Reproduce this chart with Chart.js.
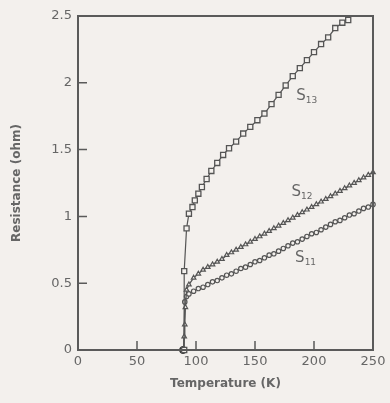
<!DOCTYPE html>
<html lang="en">
<head>
  <meta charset="UTF-8">
  <title>Resistance vs Temperature</title>
  <style>
    body { margin: 0; background: #f3f0ed; }
    #wrap { width: 390px; height: 403px; }
  </style>
  <script src="https://cdn.jsdelivr.net/npm/chart.js"></script>
</head>
<body>
<div id="wrap"><canvas id="chart" width="390" height="403"></canvas></div>
<script>
  // S13 (squares)
  const s13T = [90, 90, 92, 94, 97, 99, 102, 105, 109, 113, 118, 123, 128, 134, 140, 146, 152, 158, 164, 170, 176, 182, 188, 194, 200, 206, 212, 218, 224, 229];
  const s13R = [0, 0.59, 0.91, 1.02, 1.07, 1.12, 1.17, 1.22, 1.28, 1.34, 1.40, 1.46, 1.51, 1.56, 1.62, 1.67, 1.72, 1.77, 1.84, 1.91, 1.98, 2.05, 2.11, 2.17, 2.23, 2.29, 2.34, 2.41, 2.45, 2.47];

  // S12 (triangles)
  const s12T = [89.5, 90, 90.5, 91, 92, 94, 98, 102, 106, 110, 114, 118, 122, 126, 130, 134, 138, 142, 146, 150, 154, 158, 162, 166, 170, 174, 178, 182, 186, 190, 194, 198, 202, 206, 210, 214, 218, 222, 226, 230, 234, 238, 242, 246, 250];
  const s12R = [0, 0.10, 0.19, 0.32, 0.45, 0.49, 0.54, 0.57, 0.60, 0.62, 0.64, 0.66, 0.68, 0.71, 0.73, 0.75, 0.77, 0.79, 0.81, 0.83, 0.85, 0.87, 0.89, 0.91, 0.93, 0.95, 0.97, 0.99, 1.01, 1.03, 1.05, 1.07, 1.09, 1.11, 1.13, 1.15, 1.17, 1.19, 1.21, 1.23, 1.25, 1.27, 1.29, 1.31, 1.33];

  // S11 (circles)
  const s11T = [89.5, 90.5, 92, 94, 98, 102, 106, 110, 114, 118, 122, 126, 130, 134, 138, 142, 146, 150, 154, 158, 162, 166, 170, 174, 178, 182, 186, 190, 194, 198, 202, 206, 210, 214, 218, 222, 226, 230, 234, 238, 242, 246, 250];
  const s11R = [0, 0.36, 0.40, 0.42, 0.44, 0.46, 0.47, 0.49, 0.51, 0.52, 0.54, 0.56, 0.57, 0.59, 0.61, 0.62, 0.64, 0.66, 0.67, 0.69, 0.71, 0.72, 0.74, 0.76, 0.78, 0.80, 0.81, 0.83, 0.85, 0.87, 0.88, 0.90, 0.92, 0.94, 0.96, 0.97, 0.99, 1.01, 1.02, 1.04, 1.06, 1.07, 1.09];

  // dark blob at the foot of the transition
  const baseT = [89];
  const baseR = [0];

  const xTicks = [0, 50, 100, 150, 200, 250];
  const yTicks = [0, 0.5, 1, 1.5, 2, 2.5];
  const yTickText = ['0', '0.5', '1', '1.5', '2', '2.5'];

  // curve labels: [text, subscript, T, R]
  const curveLabels = [['S', '13', 185, 1.87], ['S', '12', 181, 1.15], ['S', '11', 184, 0.66]];

  const ink = '#555';
  const bg = '#f3f0ed';

  function pts(xs, ys) { return xs.map((x, i) => ({ x: x, y: ys[i] })); }

  const frame = {
    id: 'frame',
    afterDraw(chart) {
      const { ctx, chartArea: a, scales } = chart;
      ctx.save();
      ctx.strokeStyle = '#5a5a5a';
      ctx.lineWidth = 2;
      ctx.strokeRect(a.left, a.top, a.right - a.left, a.bottom - a.top);
      ctx.lineWidth = 1.5;
      ctx.beginPath();
      yTicks.slice(1, -1).forEach(v => {
        const y = scales.y.getPixelForValue(v);
        ctx.moveTo(a.left, y); ctx.lineTo(a.left + 9, y);
      });
      xTicks.slice(1, -1).forEach(v => {
        const x = scales.x.getPixelForValue(v);
        ctx.moveTo(x, a.bottom); ctx.lineTo(x, a.bottom - 9);
      });
      ctx.stroke();
      // curve labels
      ctx.fillStyle = '#666';
      ctx.textBaseline = 'alphabetic';
      curveLabels.forEach(l => {
        const x = scales.x.getPixelForValue(l[2]);
        const y = scales.y.getPixelForValue(l[3]);
        ctx.font = '15px "DejaVu Sans"';
        ctx.fillText(l[0], x, y);
        const w = ctx.measureText(l[0]).width;
        ctx.font = '9px "DejaVu Sans"';
        ctx.fillText(l[1], x + w, y + 3);
      });
      ctx.restore();
    }
  };

  new Chart(document.getElementById('chart'), {
    type: 'scatter',
    data: {
      datasets: [
        { label: 'S13', data: pts(s13T, s13R), showLine: true, borderColor: ink, borderWidth: 1.2,
          pointStyle: 'rect', pointRadius: 3.6, pointBorderWidth: 1.3, pointBorderColor: ink, pointBackgroundColor: bg },
        { label: 'S12', data: pts(s12T, s12R), showLine: true, borderColor: ink, borderWidth: 1.3,
          pointStyle: 'triangle', pointRadius: 2.6, pointBorderWidth: 1.2, pointBorderColor: ink, pointBackgroundColor: bg },
        { label: 'S11', data: pts(s11T, s11R), showLine: true, borderColor: ink, borderWidth: 1.3,
          pointStyle: 'circle', pointRadius: 2.2, pointBorderWidth: 1.2, pointBorderColor: ink, pointBackgroundColor: bg },
        { label: 'base', data: pts(baseT, baseR), pointStyle: 'circle', pointRadius: 3.5,
          pointBackgroundColor: '#333', pointBorderColor: '#333' }
      ]
    },
    options: {
      responsive: false,
      animation: false,
      clip: false,
      layout: { padding: { left: 10, top: 16, right: 17, bottom: 0 } },
      plugins: { legend: { display: false }, tooltip: { enabled: false } },
      scales: {
        x: {
          type: 'linear', min: 0, max: 250,
          afterBuildTicks: s => { s.ticks = xTicks.map(v => ({ value: v })); },
          afterFit: s => { s.height = 53; },
          grid: { display: false, drawTicks: false },
          border: { display: false },
          ticks: { color: '#666', padding: 4, font: { family: 'DejaVu Sans', size: 13 }, maxRotation: 0 },
          title: { display: true, text: 'Temperature (K)', color: '#666',
            font: { family: 'DejaVu Sans', size: 12, weight: 'bold' }, padding: { top: 6, bottom: 12 } }
        },
        y: {
          type: 'linear', min: 0, max: 2.5,
          afterBuildTicks: s => { s.ticks = yTicks.map(v => ({ value: v })); },
          afterFit: s => { s.width = 68; },
          grid: { display: false, drawTicks: false },
          border: { display: false },
          ticks: { color: '#666', padding: 6, font: { family: 'DejaVu Sans', size: 13 },
            callback: (v, i) => yTickText[i] },
          title: { display: true, text: 'Resistance (ohm)', color: '#666',
            font: { family: 'DejaVu Sans', size: 12, weight: 'bold' }, padding: { top: 0, bottom: 0 } }
        }
      }
    },
    plugins: [frame]
  });
</script>
</body>
</html>
